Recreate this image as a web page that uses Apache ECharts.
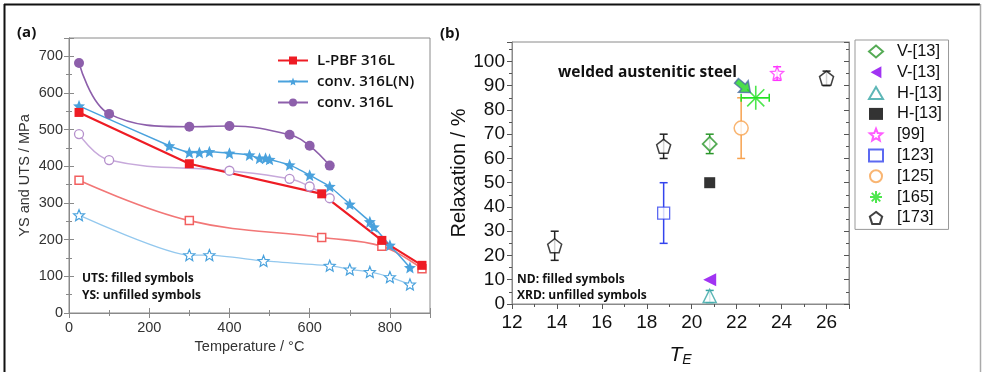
<!DOCTYPE html>
<html><head><meta charset="utf-8">
<script src="https://cdn.jsdelivr.net/npm/echarts@6/dist/echarts.min.js"></script>
<style>html,body{margin:0;padding:0;background:#fff}#c{width:982px;height:372px}</style>
</head><body><div id="c"></div>
<script>
// ---------- Panel (a): strength vs temperature ----------
const pbfUtsT = [25, 300, 630, 780, 880];
const pbfUts  = [547, 407, 325, 198, 130];
const pbfYsT  = [25, 300, 630, 780, 880];
const pbfYs   = [362, 252, 206, 182, 121];
const nUtsT = [25, 250, 300, 325, 350, 400, 450, 475, 490, 500, 550, 600, 650, 700, 750, 760, 800, 850];
const nUts  = [565, 456, 438, 438, 440, 436, 431, 422, 422, 419, 404, 376, 345, 297, 249, 235, 185, 124];
const nYsT  = [25, 300, 350, 485, 650, 700, 750, 800, 850];
const nYs   = [267, 158, 158, 142, 129, 119, 112, 98, 78];
const lUtsT = [25, 100, 300, 400, 550, 600, 650];
const lUts  = [682, 543, 508, 510, 486, 456, 402];
const lYsT  = [25, 100, 400, 550, 600, 650];
const lYs   = [488, 417, 388, 366, 345, 313];
const legendA = ['L-PBF 316L', 'conv. 316L(N)', 'conv. 316L'];

// ---------- Panel (b): relaxation vs T_E ----------
const refNames = ['V-[13]', 'V-[13] ', 'H-[13]', 'H-[13] ', '[99]', '[123]', '[125]', '[165]', '[173]'];
const vDiaX = [20.8],  vDiaY = [66],  vDiaLo = [62],  vDiaHi = [70];
const vTriX = [20.8],  vTriY = [10];
const hTriX = [20.8],  hTriY = [3.3], hTriLo = [0.6], hTriHi = [5.6];
const hSqX  = [20.8],  hSqY  = [50];
const r99X  = [23.8],  r99Y  = [95.2], r99Lo = [92.2], r99Hi = [97.8];
const r123X = [18.75], r123Y = [37.5], r123Lo = [25], r123Hi = [50];
const r125X = [22.2],  r125Y = [72.5], r125Lo = [60], r125Hi = [85];
const r165X = [22.85], r165Y = [85],   r165XLo = [22.2], r165XHi = [23.45];
const r173X = [13.9, 18.75, 26.0], r173Y = [24, 65, 93.1], r173Lo = [18, 60, 90], r173Hi = [30, 70, 96];
const weldX = [22.3],  weldY = [89.6];

const star  = 'path://M12,1 L14.9,8.3 L22.5,8.8 L16.7,13.8 L18.5,21.3 L12,17.2 L5.5,21.3 L7.3,13.8 L1.5,8.8 L9.1,8.3 Z';
const pent  = 'path://M12,2 L22,9.5 L18.2,21.5 L5.8,21.5 L2,9.5 Z';
const aster = 'path://M10,0 L10,20 M0,10 L20,10 M2.9,2.9 L17.1,17.1 M17.1,2.9 L2.9,17.1';
const leftTri = 'path://M0,10 L18,0 L18,20 Z';
const arrow = 'path://M0,6 L11,6 L11,0 L22,10 L11,20 L11,14 L0,14 Z';
const zip = (a, b) => a.map((v, i) => [v, b[i]]);

function errV(xs, los, his, color) {
  return {
    type: 'custom', xAxisIndex: 2, yAxisIndex: 2, silent: true, z: 1,
    data: xs.map((x, i) => [x, los[i], his[i]]),
    encode: {x: 0, y: [1, 2]},
    renderItem: function (params, api) {
      const x = api.value(0), lo = api.value(1), hi = api.value(2);
      const a = api.coord([x, lo]), b = api.coord([x, hi]), w = 4;
      const st = {stroke: color, lineWidth: 1.5};
      return {type: 'group', children: [
        {type: 'line', shape: {x1: a[0], y1: a[1], x2: b[0], y2: b[1]}, style: st},
        {type: 'line', shape: {x1: a[0] - w, y1: a[1], x2: a[0] + w, y2: a[1]}, style: st},
        {type: 'line', shape: {x1: b[0] - w, y1: b[1], x2: b[0] + w, y2: b[1]}, style: st}
      ]};
    }
  };
}
function errH(ys, xlos, xhis, color) {
  return {
    type: 'custom', xAxisIndex: 2, yAxisIndex: 2, silent: true, z: 1,
    data: ys.map((y, i) => [xlos[i], xhis[i], y]),
    encode: {x: [0, 1], y: 2},
    renderItem: function (params, api) {
      const lo = api.value(0), hi = api.value(1), y = api.value(2);
      const a = api.coord([lo, y]), b = api.coord([hi, y]), w = 4;
      const st = {stroke: color, lineWidth: 1.5};
      return {type: 'group', children: [
        {type: 'line', shape: {x1: a[0], y1: a[1], x2: b[0], y2: b[1]}, style: st},
        {type: 'line', shape: {x1: a[0], y1: a[1] - w, x2: a[0], y2: a[1] + w}, style: st},
        {type: 'line', shape: {x1: b[0], y1: b[1] - w, x2: b[0], y2: b[1] + w}, style: st}
      ]};
    }
  };
}

const frameA = '#8a8a8a', frameB = '#8a8a8a';
const tickA = (inside) => ({show: true, inside: inside, length: 5, lineStyle: {color: frameA}});
const minorA = (n) => ({show: true, splitNumber: n, length: 3, lineStyle: {color: frameA}});
const labA = {fontSize: 14.5, color: '#333', fontFamily: 'Liberation Sans', showMaxLabel: false};
const labB = {fontSize: 19, color: '#111', fontFamily: 'Liberation Sans', showMaxLabel: false};
const semi = 'Open Sans';

const option = {
  animation: false,
  backgroundColor: '#fff',
  grid: [
    {left: 69, top: 38, width: 361, height: 275, show: true, borderColor: frameA, borderWidth: 1},
    {left: 512, top: 42, width: 337, height: 266, show: true, borderColor: frameB, borderWidth: 1}
  ],
  xAxis: [
    {gridIndex: 0, type: 'value', min: 0, max: 900, interval: 200, position: 'bottom',
     axisLine: {lineStyle: {color: frameA}}, axisTick: tickA(true), minorTick: minorA(2), splitLine: {show: false},
     axisLabel: Object.assign({margin: 7}, labA),
     name: 'Temperature / °C', nameLocation: 'middle', nameGap: 22,
     nameTextStyle: {fontSize: 14.5, color: '#333', fontFamily: 'Liberation Sans'}},
    {gridIndex: 0, type: 'value', min: 0, max: 900, interval: 200, position: 'top',
     axisLine: {lineStyle: {color: frameA}}, axisTick: tickA(true), minorTick: minorA(2), splitLine: {show: false},
     axisLabel: {show: false}},
    {gridIndex: 1, type: 'value', min: 12, max: 27, interval: 2, position: 'bottom',
     axisLine: {lineStyle: {color: frameB}}, axisTick: {show: true, inside: false, length: 5, lineStyle: {color: '#555'}},
     minorTick: {show: true, splitNumber: 2, length: 3, lineStyle: {color: '#555'}}, splitLine: {show: false},
     axisLabel: Object.assign({margin: 9}, labB),
     name: '{i|T}{s|E}', nameLocation: 'middle', nameGap: 39,
     nameTextStyle: {rich: {i: {fontSize: 21, fontStyle: 'italic', fontFamily: 'Liberation Sans', color: '#111'},
                            s: {fontSize: 14, fontStyle: 'italic', fontFamily: 'Liberation Sans', color: '#111', verticalAlign: 'bottom', padding: [10, 0, 0, 0]}}}},
    {gridIndex: 1, type: 'value', min: 12, max: 27, interval: 2, position: 'top',
     axisLine: {lineStyle: {color: frameB}}, axisTick: {show: true, inside: true, length: 5, lineStyle: {color: '#555'}},
     minorTick: {show: true, splitNumber: 2, length: 3, lineStyle: {color: '#555'}}, splitLine: {show: false},
     axisLabel: {show: false}}
  ],
  yAxis: [
    {gridIndex: 0, type: 'value', min: 0, max: 750, interval: 100, position: 'left',
     axisLine: {show: true, lineStyle: {color: frameA}}, axisTick: tickA(true), minorTick: minorA(2), splitLine: {show: false},
     axisLabel: Object.assign({margin: 6}, labA),
     name: 'YS and UTS / MPa', nameLocation: 'middle', nameGap: 37,
     nameTextStyle: {fontSize: 14.5, color: '#333', fontFamily: 'Liberation Sans'}},
    {gridIndex: 0, type: 'value', min: 0, max: 750, interval: 100, position: 'right',
     axisLine: {show: true, lineStyle: {color: frameA}}, axisTick: tickA(true), minorTick: minorA(2), splitLine: {show: false},
     axisLabel: {show: false}},
    {gridIndex: 1, type: 'value', min: 0, max: 108, interval: 10, position: 'left',
     axisLine: {show: true, lineStyle: {color: frameB}}, axisTick: {show: true, inside: false, length: 5, lineStyle: {color: '#555'}},
     minorTick: {show: true, splitNumber: 2, length: 3, lineStyle: {color: '#555'}}, splitLine: {show: false},
     axisLabel: Object.assign({margin: 7}, labB),
     name: 'Relaxation / %', nameLocation: 'middle', nameGap: 40,
     nameTextStyle: {fontSize: 20, color: '#111', fontFamily: 'Liberation Sans'}},
    {gridIndex: 1, type: 'value', min: 0, max: 108, interval: 10, position: 'right',
     axisLine: {show: true, lineStyle: {color: frameB}}, axisTick: {show: true, inside: true, length: 5, lineStyle: {color: '#555'}},
     minorTick: {show: true, splitNumber: 2, length: 3, lineStyle: {color: '#555'}}, splitLine: {show: false},
     axisLabel: {show: false}}
  ],
  legend: [
    {data: legendA, orient: 'vertical', left: 272, top: 48, itemWidth: 30, itemHeight: 10, itemGap: 6,
     textStyle: {fontSize: 15, fontWeight: 600, fontFamily: semi, color: '#111', padding: [0, 0, 0, 4]},
     selectedMode: false},
    {data: refNames, orient: 'vertical', left: 855, top: 40, itemWidth: 14, itemHeight: 12, itemGap: 3.8,
     padding: [3, 2, 3, 13], borderColor: '#999', borderWidth: 1,
     textStyle: {fontSize: 16.5, fontFamily: 'Liberation Sans', color: '#111', padding: [0, 0, 0, 9]},
     selectedMode: false}
  ],
  series: [
    // Panel (a)
    {name: 'L-PBF 316L YS', type: 'line', xAxisIndex: 0, yAxisIndex: 0, smooth: 0.4,
     data: zip(pbfYsT, pbfYs), symbol: 'rect', symbolSize: 8,
     lineStyle: {color: '#f27777', width: 1.6}, itemStyle: {color: '#fff', borderColor: '#f25f5f', borderWidth: 1.5}},
    {name: 'conv. 316L(N) YS', type: 'line', xAxisIndex: 0, yAxisIndex: 0, smooth: 0.2,
     data: zip(nYsT, nYs), symbol: star, symbolSize: 11,
     lineStyle: {color: '#93c8ee', width: 1.3}, itemStyle: {color: '#fff', borderColor: '#4aa2dd', borderWidth: 1.2}},
    {name: 'conv. 316L YS', type: 'line', xAxisIndex: 0, yAxisIndex: 0, smooth: 0.4,
     data: zip(lYsT, lYs), symbol: 'circle', symbolSize: 9,
     lineStyle: {color: '#c7a9db', width: 1.5}, itemStyle: {color: '#fff', borderColor: '#b590cc', borderWidth: 1.3}},
    {name: 'conv. 316L', type: 'line', xAxisIndex: 0, yAxisIndex: 0, smooth: 0.4,
     data: zip(lUtsT, lUts), symbol: 'circle', symbolSize: 10,
     lineStyle: {color: '#8d5fab', width: 1.6}, itemStyle: {color: '#8d5fab'}},
    {name: 'conv. 316L(N)', type: 'line', xAxisIndex: 0, yAxisIndex: 0, smooth: 0.15,
     data: zip(nUtsT, nUts), symbol: star, symbolSize: 12,
     lineStyle: {color: '#4aa2dd', width: 1.5}, itemStyle: {color: '#4aa2dd'}},
    {name: 'L-PBF 316L', type: 'line', xAxisIndex: 0, yAxisIndex: 0,
     data: zip(pbfUtsT, pbfUts), symbol: 'rect', symbolSize: 9,
     lineStyle: {color: '#ee1c24', width: 2.2}, itemStyle: {color: '#ee1c24'}},

    // Panel (b) error bars
    errV(vDiaX, vDiaLo, vDiaHi, '#2a962a'),
    errV(hTriX, hTriLo, hTriHi, '#36a5a5'),
    errV(r99X, r99Lo, r99Hi, '#ff33ff'),
    errV(r123X, r123Lo, r123Hi, '#3344ee'),
    errV(r125X, r125Lo, r125Hi, '#f7a24f'),
    errH(r165Y, r165XLo, r165XHi, '#22e022'),
    errV(r173X, r173Lo, r173Hi, '#222'),

    // Panel (b) points
    {name: refNames[0], type: 'scatter', xAxisIndex: 2, yAxisIndex: 2, data: zip(vDiaX, vDiaY),
     symbol: 'diamond', symbolSize: 14, itemStyle: {color: '#fff', borderColor: '#2a962a', borderWidth: 1.8}},
    {name: refNames[1], type: 'scatter', xAxisIndex: 2, yAxisIndex: 2, data: zip(vTriX, vTriY),
     symbol: leftTri, symbolSize: 13, itemStyle: {color: '#8a00f0'}},
    {name: refNames[2], type: 'scatter', xAxisIndex: 2, yAxisIndex: 2, data: zip(hTriX, hTriY),
     symbol: 'triangle', symbolSize: 13, itemStyle: {color: '#fff', borderColor: '#36a5a5', borderWidth: 1.5}},
    {name: refNames[3], type: 'scatter', xAxisIndex: 2, yAxisIndex: 2, data: zip(hSqX, hSqY),
     symbol: 'rect', symbolSize: 11, itemStyle: {color: '#000'}},
    {name: refNames[4], type: 'scatter', xAxisIndex: 2, yAxisIndex: 2, data: zip(r99X, r99Y),
     symbol: star, symbolSize: 13, itemStyle: {color: '#fff', borderColor: '#ff33ff', borderWidth: 1.3}},
    {name: refNames[5], type: 'scatter', xAxisIndex: 2, yAxisIndex: 2, data: zip(r123X, r123Y),
     symbol: 'rect', symbolSize: 12, itemStyle: {color: '#fff', borderColor: '#3344ee', borderWidth: 1.3}},
    {name: refNames[6], type: 'scatter', xAxisIndex: 2, yAxisIndex: 2, data: zip(r125X, r125Y),
     symbol: 'circle', symbolSize: 14, itemStyle: {color: '#fff', borderColor: '#f7a24f', borderWidth: 1.5}},
    {name: refNames[7], type: 'scatter', xAxisIndex: 2, yAxisIndex: 2, data: zip(r165X, r165Y),
     symbol: aster, symbolSize: 24, itemStyle: {color: 'rgba(0,0,0,0)', borderColor: '#22e022', borderWidth: 1.6}},
    {name: refNames[8], type: 'scatter', xAxisIndex: 2, yAxisIndex: 2, data: zip(r173X, r173Y),
     symbol: pent, symbolSize: 14, itemStyle: {color: '#fff', borderColor: '#111', borderWidth: 1.5}},
    {name: 'welded', type: 'scatter', xAxisIndex: 2, yAxisIndex: 2, data: zip(weldX, weldY), z: 5,
     symbol: arrow, symbolRotate: -40, symbolSize: [18, 15],
     itemStyle: {color: '#1fd41f', borderColor: '#4b6aa5', borderWidth: 1.5}}
  ],
  graphic: [
    {type: 'line', shape: {x1: 4.5, y1: 4, x2: 4.5, y2: 372}, style: {stroke: '#111', lineWidth: 2}},
    {type: 'line', shape: {x1: 4, y1: 4.5, x2: 980, y2: 4.5}, style: {stroke: '#111', lineWidth: 2}},
    {type: 'line', shape: {x1: 980.5, y1: 4, x2: 980.5, y2: 372}, style: {stroke: '#aaa', lineWidth: 1.5}},
    {type: 'text', x: 17, y: 33, style: {text: '(a)', font: 'bold 15px "Open Sans"', fill: '#111', verticalAlign: 'middle'}},
    {type: 'text', x: 440, y: 34, style: {text: '(b)', font: 'bold 15px "Open Sans"', fill: '#111', verticalAlign: 'middle'}},
    {type: 'text', x: 82, y: 279, style: {text: 'UTS: filled symbols', font: 'bold 12px "Open Sans"', fill: '#111', verticalAlign: 'middle'}},
    {type: 'text', x: 82, y: 296, style: {text: 'YS: unfilled symbols', font: 'bold 12px "Open Sans"', fill: '#111', verticalAlign: 'middle'}},
    {type: 'text', x: 517, y: 280, style: {text: 'ND: filled symbols', font: 'bold 12px "Open Sans"', fill: '#111', verticalAlign: 'middle'}},
    {type: 'text', x: 517, y: 296, style: {text: 'XRD: unfilled symbols', font: 'bold 12px "Open Sans"', fill: '#111', verticalAlign: 'middle'}},
    {type: 'text', x: 558, y: 73, style: {text: 'welded austenitic steel', font: 'bold 15.5px "Open Sans"', fill: '#111', verticalAlign: 'middle'}}
  ]
};
const chart = echarts.init(document.getElementById('c'));
chart.setOption(option);
</script>
</body></html>
